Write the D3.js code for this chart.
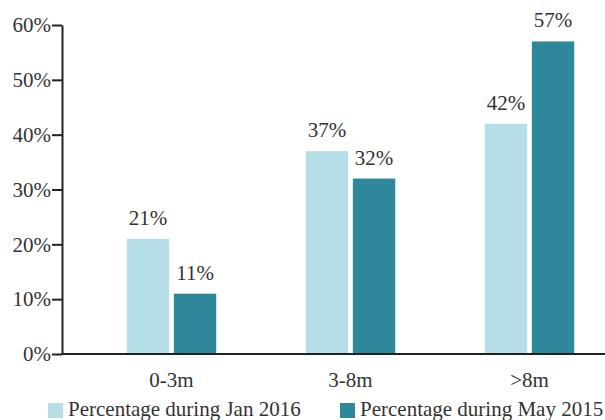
<!DOCTYPE html>
<html>
<head>
<meta charset="utf-8">
<script src="https://cdn.jsdelivr.net/npm/d3@7"></script>
<style>
  html, body { margin: 0; padding: 0; background: #fff; }
  svg text { font-family: "Liberation Serif", "DejaVu Serif", serif; fill: #333; }
</style>
</head>
<body>
<svg id="chart" width="605" height="420"></svg>
<script>
// Duration buckets and the share of each bucket in two periods
const categories = ["0-3m", "3-8m", ">8m"];
const seriesNames = ["Percentage during Jan 2016", "Percentage during May 2015"];
const jan2016 = [21, 37, 42];
const may2015 = [11, 32, 57];
const yTicks = [0, 10, 20, 30, 40, 50, 60];
const colors = ["#b6dee9", "#2e879b"];

const svg = d3.select("#chart");
const plotLeft = 62, plotTop = 25, plotBottom = 354;

const y = d3.scaleLinear().domain([0, 60]).range([plotBottom, plotTop]);

const x0 = d3.scaleBand()
  .domain(categories)
  .range([82, 619])
  .paddingInner(0.5)
  .paddingOuter(0.25);

const x1 = d3.scaleBand()
  .domain(seriesNames)
  .range([0, x0.bandwidth()])
  .paddingInner(0.1);

const color = d3.scaleOrdinal().domain(seriesNames).range(colors);

const rows = categories.map((c, i) => ({
  cat: c,
  values: [
    { name: seriesNames[0], v: jan2016[i] },
    { name: seriesNames[1], v: may2015[i] }
  ]
}));

// Bars
const groups = svg.append("g").selectAll("g")
  .data(rows).join("g")
  .attr("transform", d => `translate(${x0(d.cat)},0)`);

groups.selectAll("rect")
  .data(d => d.values).join("rect")
  .attr("x", d => x1(d.name))
  .attr("y", d => y(d.v))
  .attr("width", x1.bandwidth())
  .attr("height", d => y(0) - y(d.v))
  .attr("fill", d => color(d.name));

// Value labels above each bar
groups.selectAll("text.val")
  .data(d => d.values).join("text")
  .attr("class", "val")
  .attr("x", d => x1(d.name) + x1.bandwidth() / 2)
  .attr("y", d => y(d.v) - 14)
  .attr("text-anchor", "middle")
  .attr("font-size", 21)
  .text(d => d.v + "%");

// Y axis
const yAxis = svg.append("g")
  .attr("transform", `translate(${plotLeft},0)`)
  .call(d3.axisLeft(y).tickValues(yTicks).tickFormat(d => d + "%").tickSize(10).tickPadding(1).tickSizeOuter(0));
yAxis.select(".domain").attr("stroke", "#222").attr("stroke-width", 2);
yAxis.selectAll(".tick line").attr("stroke", "#222").attr("stroke-width", 2);
yAxis.selectAll(".tick text")
  .attr("font-family", "Liberation Serif, DejaVu Serif, serif")
  .attr("font-size", 21)
  .attr("fill", "#333");

// Baseline along the bottom
svg.append("line")
  .attr("x1", plotLeft).attr("x2", 605)
  .attr("y1", plotBottom).attr("y2", plotBottom)
  .attr("stroke", "#222").attr("stroke-width", 2);

// Category labels
svg.append("g").selectAll("text")
  .data(categories).join("text")
  .attr("x", d => x0(d) + x0.bandwidth() / 2)
  .attr("y", 387)
  .attr("text-anchor", "middle")
  .attr("font-size", 21)
  .text(d => d);

// Legend
const legendX = [48, 340];
const legend = svg.append("g").selectAll("g")
  .data(seriesNames).join("g")
  .attr("transform", (d, i) => `translate(${legendX[i]},403)`);
legend.append("rect")
  .attr("width", 15).attr("height", 15)
  .attr("fill", d => color(d));
legend.append("text")
  .attr("x", 20).attr("y", 13)
  .attr("font-size", 21)
  .text(d => d);
</script>
</body>
</html>
